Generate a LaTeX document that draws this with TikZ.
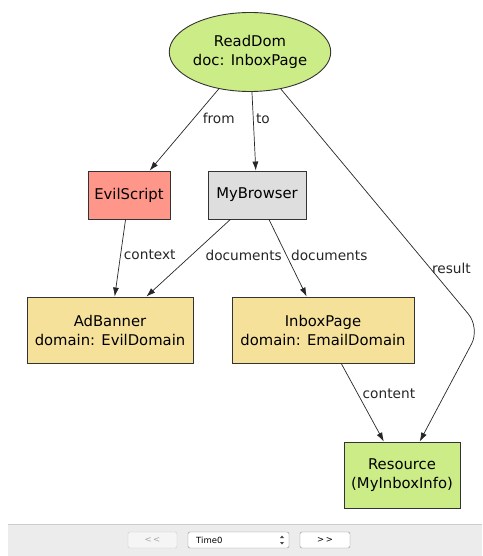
\documentclass[tikz,border=0pt]{standalone}
\usepackage{fontspec}
\setmainfont{DejaVu Sans}
\usetikzlibrary{arrows.meta,shapes.geometric}
\definecolor{cAction}{RGB}{204,236,136}
\definecolor{cEvil}{RGB}{255,150,138}
\definecolor{cAgent}{RGB}{222,222,222}
\definecolor{cDoc}{RGB}{246,225,155}
\definecolor{cBar}{RGB}{236,236,236}

\begin{document}
\begin{tikzpicture}[x=1pt, y=-1pt, font=\fontsize{14.8}{19}\selectfont,
  box/.style={draw=black!80, line width=0.9pt, align=center, inner sep=0pt, minimum height=48},
  rel/.style={-{Latex[length=9pt,width=6pt]}, line width=0.7pt, black!85},
  lbl/.style={font=\fontsize{13.7}{16}\selectfont, inner sep=0.5pt, anchor=west},
  btn/.style={rounded corners=2pt, minimum height=16, inner sep=0pt, font=\fontsize{8.5}{10}\selectfont}]
\useasboundingbox (0,0) rectangle (482,556);
% one unit = one pixel of the reference
\node[box, ellipse, fill=cAction, minimum width=149, minimum height=79] (readdom) at (250,52) {ReadDom\\doc: InboxPage};
\node[box, fill=cEvil, minimum width=82]  (evilscript) at (129,195) {EvilScript};
\node[box, fill=cAgent, minimum width=98] (mybrowser)  at (257,195) {MyBrowser};
\node[box, fill=cDoc, minimum width=166, minimum height=66] (adbanner)  at (110,330) {AdBanner\\domain: EvilDomain};
\node[box, fill=cDoc, minimum width=182, minimum height=66] (inboxpage) at (323,330) {InboxPage\\domain: EmailDomain};
\node[box, fill=cAction, minimum width=116, minimum height=66] (resource) at (402,475) {Resource\\(MyInboxInfo)};
\coordinate (bend) at (480,328);
\draw[rel] (readdom) -- node[lbl, pos=0.36, xshift=8] (lblfrom) {from} (evilscript);
\draw[rel] (readdom) -- node[lbl, pos=0.34, xshift=2] (lblto) {to} (mybrowser);
\draw[rel] (evilscript) -- node[lbl, pos=0.46, xshift=2.5] (lblcontext) {context} (adbanner);
\draw[rel] (mybrowser) -- node[lbl, pos=0.46, xshift=13] (lbldocsa) {documents} (adbanner);
\draw[rel] (mybrowser) -- node[lbl, pos=0.46, xshift=4] (lbldocsb) {documents} (inboxpage);
\draw[rel] (inboxpage) -- node[lbl, pos=0.39, xshift=4] (lblcontent) {content} (resource);
\draw[rel, rounded corners=18pt] (readdom) -- node[lbl, pos=0.75, xshift=1] (lblresult) {result} (bend) -- (resource);
% time bar
\fill[cBar] (8,524) rectangle (482,556);
\draw[black!20, line width=0.8pt] (8,524.4) -- (482,524.4);
\node[btn, draw=black!20, fill=black!4, text=black!35, minimum width=49] (prev) at (152.5,540) {<\kern1.5pt<};
\node[btn, draw=black!45, fill=white, minimum width=101] (timesel) at (238.5,540) {};
\node[anchor=west, inner sep=0pt, font=\fontsize{8.5}{10}\selectfont] (timelbl) at (196,540.5) {Time0};
\fill[black!70] (280,538) -- (284,538) -- (282,535.5) -- cycle (280,542) -- (284,542) -- (282,544.5) -- cycle;
\node[btn, draw=black!45, fill=white, minimum width=50] (next) at (325,540) {>\kern1.5pt>};
\end{tikzpicture}
\end{document}
